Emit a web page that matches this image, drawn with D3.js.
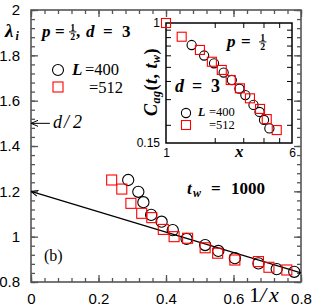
<!DOCTYPE html>
<meta charset="utf-8">
<title>Lambda vs 1/x</title>
<style>
    body { margin: 0; background: #fff; }
    svg { display: block; }
    text { white-space: pre; fill: #000; }
    .tick-label { font-family: "Liberation Sans", Arial, sans-serif; }
    .math { font-family: "Liberation Serif", "Times New Roman", serif; }
</style>
<body>
<script src="https://d3js.org/d3.v7.min.js"></script>
<script>

    // main panel: lambda_i against 1/x, t_w = 1000
    var mainInvX400 = [0.288, 0.318, 0.333, 0.356, 0.387, 0.420, 0.461, 0.516, 0.555, 0.604, 0.674, 0.728, 0.780];
    var mainLam400  = [1.250, 1.198, 1.152, 1.096, 1.066, 1.029, 0.990, 0.963, 0.937, 0.905, 0.882, 0.857, 0.845];
    var mainInvX512 = [0.239, 0.269, 0.296, 0.328, 0.358, 0.392, 0.424, 0.464, 0.516, 0.553, 0.604, 0.674, 0.705, 0.758];
    var mainLam512  = [1.250, 1.210, 1.147, 1.103, 1.084, 1.032, 1.000, 0.993, 0.951, 0.927, 0.897, 0.890, 0.865, 0.853];

    // straight-line extrapolation to 1/x = 0 and the d/2 marker
    var fitInvX = [0, 0.8];
    var fitLam  = [1.2, 0.84];
    var halfDimInvX = [0, 0.056];
    var halfDimLam  = [1.5, 1.5];

    var xTicks = [0, 0.2, 0.4, 0.6, 0.8];
    var yTicks = [0.8, 1, 1.2, 1.4, 1.6, 1.8, 2];

    // inset: C_ag(t, t_w) against x (log-log)
    var insetX400 = [1.44, 1.72, 1.98, 2.27, 2.55, 2.84, 3.09, 3.47, 3.78, 4.03, 4.35];
    var insetC400 = [0.706, 0.598, 0.529, 0.457, 0.406, 0.354, 0.320, 0.274, 0.245, 0.216, 0.189];
    var insetX512 = [1.00, 1.25, 1.62, 1.92, 2.21, 2.51, 2.86, 3.30, 3.81, 4.19, 4.83];
    var insetC512 = [1.000, 0.805, 0.653, 0.542, 0.476, 0.406, 0.356, 0.304, 0.257, 0.219, 0.184];

    var insetXTicks = [1, 6];
    var insetYTicks = [0.15, 1];
    var insetXMinor = [2, 3, 4, 5];
    var insetYMinor = [0.2, 0.3, 0.4, 0.5, 0.6, 0.7, 0.8, 0.9];

    var width = 316, height = 308;
    var frame = "#555";

    var svg = d3.select("body").append("svg")
        .attr("width", width)
        .attr("height", height);

    svg.append("defs").append("marker")
        .attr("id", "arrow")
        .attr("viewBox", "0 -5 10 10")
        .attr("refX", 0).attr("refY", 0)
        .attr("markerUnits", "userSpaceOnUse")
        .attr("markerWidth", 10).attr("markerHeight", 10)
        .attr("orient", "auto")
        .append("path")
        .attr("d", "M7,-3L0,0L7,3")
        .attr("fill", "none")
        .attr("stroke", "#000")
        .attr("stroke-width", 1);

    var x = d3.scaleLinear().domain([0, 0.8]).range([31, 301]);
    var y = d3.scaleLinear().domain([0.8, 2]).range([282, 10]);

    var xMinor = d3.range(0, 41, 2).map(function(d) { return d / 50; });
    var yMinor = d3.range(40, 101, 2).map(function(d) { return d / 50; });

    function styleAxis(g) {
        g.select(".domain").remove();
        g.selectAll(".tick line").attr("stroke", frame).attr("stroke-width", 1.3);
    }

    // minor ticks on all four sides
    [[d3.axisBottom(x), "translate(0,282)", xMinor],
     [d3.axisTop(x), "translate(0,10)", xMinor],
     [d3.axisLeft(y), "translate(31,0)", yMinor],
     [d3.axisRight(y), "translate(301,0)", yMinor]].forEach(function(a) {
        svg.append("g").attr("transform", a[1])
            .call(a[0].tickValues(a[2]).tickSize(-4).tickFormat(""))
            .call(styleAxis);
    });
    // major ticks
    [[d3.axisTop(x), "translate(0,10)", xTicks],
     [d3.axisRight(y), "translate(301,0)", yTicks]].forEach(function(a) {
        svg.append("g").attr("transform", a[1])
            .call(a[0].tickValues(a[2]).tickSize(-7).tickFormat(""))
            .call(styleAxis);
    });

    var gx = svg.append("g").attr("transform", "translate(0,282)")
        .call(d3.axisBottom(x).tickValues(xTicks).tickSize(-7).tickPadding(11)
            .tickFormat(function(d) { return String(d); }))
        .call(styleAxis);
    gx.selectAll("text").attr("class", "tick-label").style("font-size", "15px").attr("fill", "#000");

    var gy = svg.append("g").attr("transform", "translate(31,0)")
        .call(d3.axisLeft(y).tickValues(yTicks).tickSize(-7).tickPadding(11)
            .tickFormat(function(d) { return String(d); }))
        .call(styleAxis);
    gy.selectAll("text").attr("class", "tick-label").style("font-size", "15px").attr("fill", "#000");

    svg.append("rect")
        .attr("x", 31).attr("y", 10)
        .attr("width", 270).attr("height", 272)
        .attr("fill", "none")
        .attr("stroke", frame)
        .attr("stroke-width", 1.6);

    // extrapolation line and d/2 arrow
    var line = d3.line()
        .x(function(d) { return x(d[0]); })
        .y(function(d) { return y(d[1]); });

    svg.append("path")
        .datum(d3.zip(fitInvX, fitLam))
        .attr("d", line)
        .attr("fill", "none")
        .attr("stroke", "#000")
        .attr("stroke-width", 1.2)
        .attr("marker-start", "url(#arrow)");

    svg.append("path")
        .datum(d3.zip(halfDimInvX, halfDimLam))
        .attr("d", line)
        .attr("fill", "none")
        .attr("stroke", "#000")
        .attr("stroke-width", 1)
        .attr("marker-start", "url(#arrow)");

    function drawSeries(g, xs, xv, yv, shape, size) {
        var pts = d3.zip(xv, yv);
        if (shape === "circle") {
            g.selectAll(null).data(pts).enter().append("circle")
                .attr("cx", function(d) { return xs[0](d[0]); })
                .attr("cy", function(d) { return xs[1](d[1]); })
                .attr("r", size)
                .attr("fill", "none")
                .attr("stroke", "#000")
                .attr("stroke-width", 1.1);
        } else {
            g.selectAll(null).data(pts).enter().append("rect")
                .attr("x", function(d) { return xs[0](d[0]) - size; })
                .attr("y", function(d) { return xs[1](d[1]) - size; })
                .attr("width", size * 2)
                .attr("height", size * 2)
                .attr("fill", "none")
                .attr("stroke", "#f00")
                .attr("stroke-width", 1.1);
        }
    }

    drawSeries(svg.append("g"), [x, y], mainInvX400, mainLam400, "circle", 5.6);
    drawSeries(svg.append("g"), [x, y], mainInvX512, mainLam512, "square", 5);

    // one text element per formula, pieces placed with their own x
    function mathText(g, y0, size, parts) {
        var t = g.append("text").attr("class", "math")
            .attr("y", y0)
            .style("font-size", size + "px")
            .style("font-weight", "bold");
        parts.forEach(function(p) {
            if (p.frac) {
                var fs = size * 0.58, w = fs * 0.75;
                [[p.frac[0], y0 - size * 0.38], [p.frac[1], y0 + size * 0.2]].forEach(function(f) {
                    g.append("text").attr("class", "math")
                        .attr("x", p.x + w / 2).attr("y", f[1])
                        .attr("text-anchor", "middle")
                        .style("font-size", fs + "px").style("font-weight", "bold")
                        .text(f[0]);
                });
                g.append("line")
                    .attr("x1", p.x).attr("x2", p.x + w)
                    .attr("y1", y0 - size * 0.3).attr("y2", y0 - size * 0.3)
                    .attr("stroke", "#000").attr("stroke-width", 0.9);
                return;
            }
            t.append("tspan")
                .attr("x", p.x).attr("y", y0 + (p.dy || 0))
                .style("font-size", (p.size || size) + "px")
                .style("font-style", p.it ? "italic" : "normal")
                .style("font-weight", p.bold === false ? "normal" : "bold")
                .text(p.t);
        });
        return t;
    }

    // main panel annotations
    mathText(svg, 37, 17, [{x: 5, t: "\u03bb", it: true, size: 19}, {x: 15.5, t: "i", it: true, size: 12, dy: 3}]);
    mathText(svg, 37, 17, [
        {x: 42, t: "p", it: true}, {x: 55, t: "="}, {frac: ["1", "2"], x: 69},
        {x: 76, t: ","}, {x: 86, t: "d", it: true}, {x: 103, t: "="}, {x: 122, t: "3"}
    ]);

    svg.append("circle").attr("cx", 58).attr("cy", 70).attr("r", 5.5)
        .attr("fill", "none").attr("stroke", "#000").attr("stroke-width", 1.1);
    svg.append("rect").attr("x", 53).attr("y", 82).attr("width", 10).attr("height", 10)
        .attr("fill", "none").attr("stroke", "#f00").attr("stroke-width", 1.1);
    mathText(svg, 75, 17, [{x: 72, t: "L", it: true}, {x: 85, t: "=400", bold: false, size: 16.5}]);
    mathText(svg, 93, 17, [{x: 89, t: "=512", bold: false, size: 16.5}]);

    mathText(svg, 128, 18, [{x: 53, t: "d", it: true, bold: false}, {x: 64, t: "/", it: true, bold: false}, {x: 73, t: "2", it: true, bold: false}]);
    mathText(svg, 261, 16, [{x: 44, t: "(b)", bold: false}]);

    mathText(svg, 194, 17, [
        {x: 187, t: "t", it: true}, {x: 193, t: "w", it: true, size: 12, dy: 3},
        {x: 211, t: "="}, {x: 231, t: "1000"}
    ]);

    mathText(svg, 302, 22, [{x: 249, t: "1", bold: false}, {x: 260, t: "/", it: true, bold: false}, {x: 269, t: "x", it: true, bold: false}]);

    // inset
    var ix = d3.scaleLog().domain([1, 6]).range([166, 292]);
    var iy = d3.scaleLog().domain([0.15, 1]).range([143, 23]);

    var inset = svg.append("g");
    inset.append("rect")
        .attr("x", 166).attr("y", 23)
        .attr("width", 126).attr("height", 120)
        .attr("fill", "#fff");

    [[d3.axisBottom(ix), "translate(0,143)", insetXMinor],
     [d3.axisTop(ix), "translate(0,23)", insetXMinor],
     [d3.axisLeft(iy), "translate(166,0)", insetYMinor],
     [d3.axisRight(iy), "translate(292,0)", insetYMinor]].forEach(function(a) {
        inset.append("g").attr("transform", a[1])
            .call(a[0].tickValues(a[2]).tickSize(-5).tickFormat(""))
            .call(function(g) {
                g.select(".domain").remove();
                g.selectAll(".tick line").attr("stroke", "#000").attr("stroke-width", 1);
            });
    });

    inset.append("g").attr("transform", "translate(0,143)")
        .call(d3.axisBottom(ix).tickValues(insetXTicks).tickSize(0).tickPadding(5)
            .tickFormat(function(d) { return String(d); }))
        .call(function(g) {
            g.select(".domain").remove();
            g.selectAll("text").attr("class", "tick-label").style("font-size", "12px").attr("fill", "#000");
        });
    inset.append("g").attr("transform", "translate(166,0)")
        .call(d3.axisLeft(iy).tickValues(insetYTicks).tickSize(0).tickPadding(6)
            .tickFormat(function(d) { return String(d); }))
        .call(function(g) {
            g.select(".domain").remove();
            g.selectAll("text").attr("class", "tick-label").style("font-size", "12px").attr("fill", "#000");
        });

    inset.append("rect")
        .attr("x", 166).attr("y", 23)
        .attr("width", 126).attr("height", 120)
        .attr("fill", "none")
        .attr("stroke", "#000")
        .attr("stroke-width", 1.5);

    drawSeries(inset.append("g"), [ix, iy], insetX400, insetC400, "circle", 4.6);
    drawSeries(inset.append("g"), [ix, iy], insetX512, insetC512, "square", 4.5);

    mathText(inset, 47, 17, [{x: 227, t: "p", it: true}, {x: 241, t: "="}, {frac: ["1", "2"], x: 259}]);
    mathText(inset, 92, 18, [{x: 175, t: "d", it: true}, {x: 192, t: "="}, {x: 211, t: "3"}]);

    inset.append("circle").attr("cx", 186).attr("cy", 113).attr("r", 4.6)
        .attr("fill", "none").attr("stroke", "#000").attr("stroke-width", 1.1);
    inset.append("rect").attr("x", 181.5).attr("y", 120.5).attr("width", 9).attr("height", 9)
        .attr("fill", "none").attr("stroke", "#f00").attr("stroke-width", 1.1);
    mathText(inset, 116, 12, [{x: 198, t: "L", it: true}, {x: 209, t: "=400", bold: false, size: 12.5}]);
    mathText(inset, 129, 12, [{x: 209, t: "=512", bold: false, size: 12.5}]);

    mathText(inset, 157, 17, [{x: 235, t: "x", it: true}]);

    // rotated y label of the inset
    var yl = inset.append("text").attr("class", "math")
        .attr("transform", "translate(157,82) rotate(-90)")
        .attr("text-anchor", "middle")
        .style("font-size", "18px").style("font-weight", "bold")
        .style("letter-spacing", "0.5px");
    yl.append("tspan").style("font-style", "italic").text("C");
    yl.append("tspan").style("font-style", "italic").style("font-size", "12px").attr("dy", 3).text("ag");
    yl.append("tspan").attr("dy", -3).text("(");
    yl.append("tspan").style("font-style", "italic").text("t");
    yl.append("tspan").text(", ");
    yl.append("tspan").style("font-style", "italic").text("t");
    yl.append("tspan").style("font-style", "italic").style("font-size", "12px").attr("dy", 3).text("w");
    yl.append("tspan").attr("dy", -3).text(")");

</script>
